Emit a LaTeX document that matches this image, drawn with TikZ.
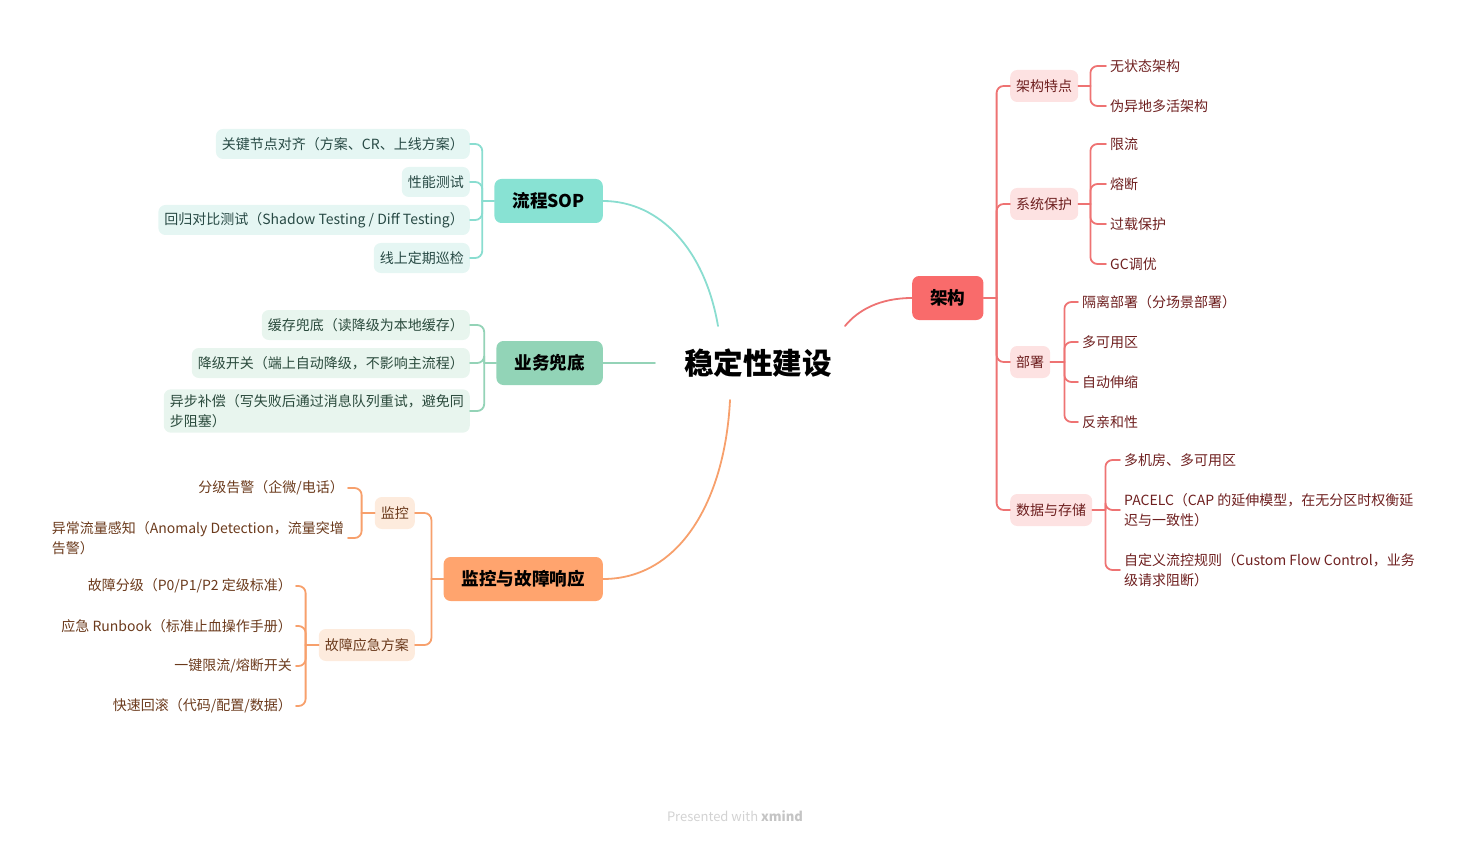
\documentclass[tikz,border=0pt]{standalone}
\usepackage{fontspec}
\setmainfont{Noto Sans CJK SC}
\definecolor{redM}{HTML}{F96B6B}
\definecolor{redL}{HTML}{EE7373}
\definecolor{redS}{HTML}{FDE2E2}
\definecolor{redT}{HTML}{6E1F1F}
\definecolor{tealM}{HTML}{88E2D3}
\definecolor{tealL}{HTML}{8ADDD0}
\definecolor{tealS}{HTML}{E5F6F3}
\definecolor{tealT}{HTML}{284A45}
\definecolor{grnM}{HTML}{92D4B7}
\definecolor{grnL}{HTML}{94D3B7}
\definecolor{grnS}{HTML}{E8F5EE}
\definecolor{grnT}{HTML}{2A4A3C}
\definecolor{orgM}{HTML}{FFA46E}
\definecolor{orgL}{HTML}{F7A06C}
\definecolor{orgS}{HTML}{FDEBDD}
\definecolor{orgT}{HTML}{6B3A1C}
\definecolor{footc}{HTML}{D2D2D2}
\definecolor{footb}{HTML}{C4C4C4}
\tikzset{
  mainbox/.style={rounded corners=7pt, inner xsep=18pt, inner ysep=0pt, minimum height=44pt,
    font=\fontsize{17.6}{20}\selectfont\bfseries, text=black},
  subbox/.style={rounded corners=7pt, inner xsep=6pt, inner ysep=0pt, minimum height=32pt,
    font=\fontsize{14}{20}\selectfont},
  leafbox/.style={rounded corners=7pt, inner xsep=6pt, inner ysep=5pt, minimum height=30pt,
    font=\fontsize{14}{20}\selectfont, align=left},
  leaf/.style={inner xsep=4pt, inner ysep=2pt, font=\fontsize{14}{20}\selectfont, align=left},
  conn/.style={line width=1.8pt, rounded corners=7pt, line cap=round},
  curve/.style={line width=1.8pt, line cap=round}
}
\begin{document}
\begin{tikzpicture}[x=1pt,y=-1pt]
\useasboundingbox (0,0) rectangle (1471,842);

% root
\node[font=\fontsize{29.6}{34}\selectfont\bfseries, text=black] (root) at (758,363) {稳定性建设};
\coordinate (rA) at (845,326);
\coordinate (rS) at (718,326);
\coordinate (rB) at (655,363);
\coordinate (rM) at (730,400);

% ---- 流程SOP
\node[mainbox, fill=tealM, anchor=east] (sop) at (603,201) {流程SOP};
\node[leafbox, fill=tealS, text=tealT, anchor=east] (t1) at (470,144) {关键节点对齐（方案、CR、上线方案）};
\node[leafbox, fill=tealS, text=tealT, anchor=east] (t2) at (470,182) {性能测试};
\node[leafbox, fill=tealS, text=tealT, anchor=east] (t3) at (470,220) {回归对比测试（Shadow Testing / Diff Testing）};
\node[leafbox, fill=tealS, text=tealT, anchor=east] (t4) at (470,258) {线上定期巡检};
\path (sop.west) ++(-12,0) coordinate (sopj);
\draw[conn, tealL] (sop.west) -- (sopj);
\foreach \n in {t1,t2,t3,t4} \draw[conn, tealL] (sopj) |- (\n.east);
\draw[curve, tealL] (sop.east) .. controls (660,201) and (705,250) .. (rS);

% ---- 业务兜底
\node[mainbox, fill=grnM, anchor=east] (biz) at (603,363) {业务兜底};
\node[leafbox, fill=grnS, text=grnT, anchor=east] (g1) at (470,325) {缓存兜底（读降级为本地缓存）};
\node[leafbox, fill=grnS, text=grnT, anchor=east] (g2) at (470,363) {降级开关（端上自动降级，不影响主流程）};
\node[leafbox, fill=grnS, text=grnT, anchor=east] (g3) at (470,411) {异步补偿（写失败后通过消息队列重试，避免同\\步阻塞）};
\path (biz.west) ++(-12,0) coordinate (bizj);
\draw[conn, grnL] (biz.west) -- (bizj);
\foreach \n in {g1,g2,g3} \draw[conn, grnL] (bizj) |- (\n.east);
\draw[curve, grnL] (biz.east) -- (rB);

% ---- 监控与故障响应
\node[mainbox, fill=orgM, anchor=east] (mon) at (603,579) {监控与故障响应};
\node[subbox, fill=orgS, text=orgT, anchor=east] (mo1) at (415,513) {监控};
\node[subbox, fill=orgS, text=orgT, anchor=east] (mo2) at (415,645) {故障应急方案};
\path (mon.west) ++(-12,0) coordinate (monj);
\draw[conn, orgL] (mon.west) -- (monj);
\foreach \n in {mo1,mo2} \draw[conn, orgL] (monj) |- (\n.east);
\draw[curve, orgL] (mon.east) .. controls (680,579) and (725,500) .. (rM);

\node[leaf, text=orgT, anchor=east] (a1) at (348,488) {分级告警（企微/电话）};
\node[leaf, text=orgT, anchor=east] (a2) at (348,538) {异常流量感知（Anomaly Detection，流量突增\\告警）};
\path (mo1.west) ++(-13,0) coordinate (mo1j);
\draw[conn, orgL] (mo1.west) -- (mo1j);
\foreach \n in {a1,a2} \draw[conn, orgL] (mo1j) |- (\n.east);

\node[leaf, text=orgT, anchor=east] (b1) at (296,586) {故障分级（P0/P1/P2 定级标准）};
\node[leaf, text=orgT, anchor=east] (b2) at (296,626) {应急 Runbook（标准止血操作手册）};
\node[leaf, text=orgT, anchor=east] (b3) at (296,666) {一键限流/熔断开关};
\node[leaf, text=orgT, anchor=east] (b4) at (296,706) {快速回滚（代码/配置/数据）};
\path (mo2.west) ++(-13,0) coordinate (mo2j);
\draw[conn, orgL] (mo2.west) -- (mo2j);
\foreach \n in {b1,b2,b3,b4} \draw[conn, orgL] (mo2j) |- (\n.east);

% ---- 架构
\node[mainbox, fill=redM, anchor=west] (arch) at (912,298) {架构};
\draw[curve, redL] (rA) .. controls (858,310) and (880,298) .. (arch.west);
\node[subbox, fill=redS, text=redT, anchor=west] (s1) at (1010,86) {架构特点};
\node[subbox, fill=redS, text=redT, anchor=west] (s2) at (1010,204) {系统保护};
\node[subbox, fill=redS, text=redT, anchor=west] (s3) at (1010,362) {部署};
\node[subbox, fill=redS, text=redT, anchor=west] (s4) at (1010,510) {数据与存储};
\path (arch.east) ++(13,0) coordinate (archj);
\draw[conn, redL] (arch.east) -- (archj);
\foreach \n in {s1,s2,s3,s4} \draw[conn, redL] (archj) |- (\n.west);

\node[leaf, text=redT, anchor=west] (c1) at (1106,66) {无状态架构};
\node[leaf, text=redT, anchor=west] (c2) at (1106,106) {伪异地多活架构};
\path (s1.east) ++(12,0) coordinate (s1j);
\draw[conn, redL] (s1.east) -- (s1j);
\foreach \n in {c1,c2} \draw[conn, redL] (s1j) |- (\n.west);

\node[leaf, text=redT, anchor=west] (d1) at (1106,144) {限流};
\node[leaf, text=redT, anchor=west] (d2) at (1106,184) {熔断};
\node[leaf, text=redT, anchor=west] (d3) at (1106,224) {过载保护};
\node[leaf, text=redT, anchor=west] (d4) at (1106,264) {GC调优};
\path (s2.east) ++(12,0) coordinate (s2j);
\draw[conn, redL] (s2.east) -- (s2j);
\foreach \n in {d1,d2,d3,d4} \draw[conn, redL] (s2j) |- (\n.west);

\node[leaf, text=redT, anchor=west] (e1) at (1078,302) {隔离部署（分场景部署）};
\node[leaf, text=redT, anchor=west] (e2) at (1078,342) {多可用区};
\node[leaf, text=redT, anchor=west] (e3) at (1078,382) {自动伸缩};
\node[leaf, text=redT, anchor=west] (e4) at (1078,422) {反亲和性};
\path (s3.east) ++(14,0) coordinate (s3j);
\draw[conn, redL] (s3.east) -- (s3j);
\foreach \n in {e1,e2,e3,e4} \draw[conn, redL] (s3j) |- (\n.west);

\node[leaf, text=redT, anchor=west] (f1) at (1120,460) {多机房、多可用区};
\node[leaf, text=redT, anchor=west] (f2) at (1120,510) {PACELC（CAP 的延伸模型，在无分区时权衡延\\迟与一致性）};
\node[leaf, text=redT, anchor=west] (f3) at (1120,570) {自定义流控规则（Custom Flow Control，业务\\级请求阻断）};
\path (s4.east) ++(13,0) coordinate (s4j);
\draw[conn, redL] (s4.east) -- (s4j);
\foreach \n in {f1,f2,f3} \draw[conn, redL] (s4j) |- (\n.west);

% footer
\node[text=footc, font=\fontsize{13}{16}\selectfont] (foot) at (735,816) {Presented with \textcolor{footb}{\textbf{xmind}}};
\end{tikzpicture}
\end{document}
